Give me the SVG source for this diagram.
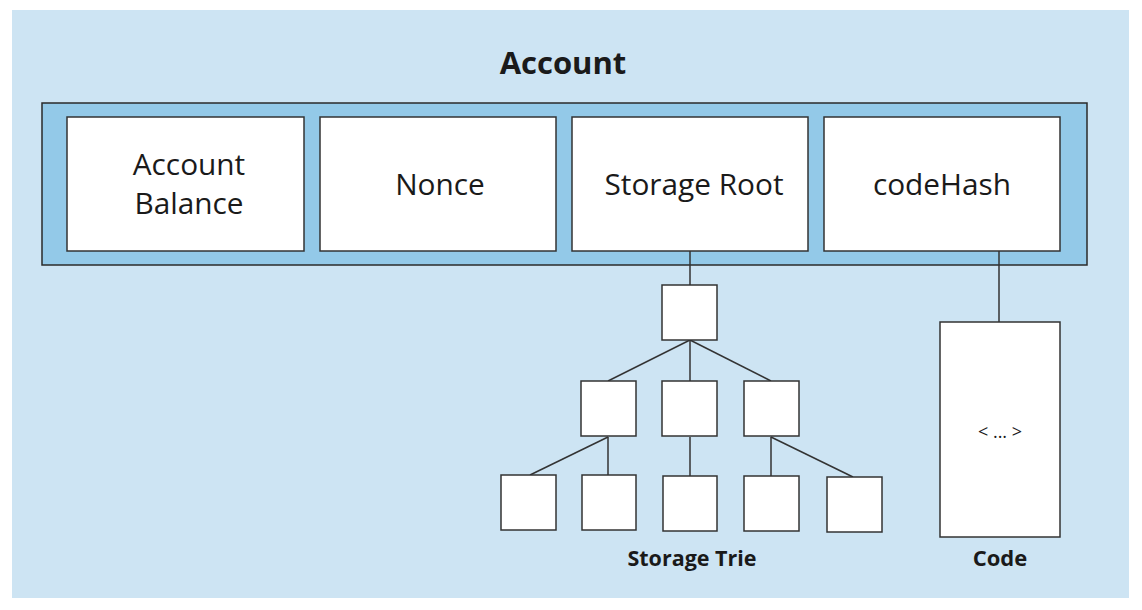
<svg xmlns="http://www.w3.org/2000/svg" width="1142" height="610" viewBox="0 0 1142 610">
<style>
.lbl{font-family:"Open Sans","Noto Sans",sans-serif;font-size:29.8px;fill:#1a1a1a;text-anchor:middle}
.bold{font-family:"Open Sans","Noto Sans",sans-serif;font-weight:bold;fill:#1a1a1a;text-anchor:middle}
.box{fill:#fff;stroke:#333;stroke-width:1.5}
.conn{stroke:#333;stroke-width:1.5;fill:none}
</style>
<rect x="0" y="0" width="1142" height="610" fill="#fff"/>
<rect x="12" y="10" width="1117" height="588" fill="#cde4f3"/>
<text class="bold" x="563" y="74" font-size="31">Account</text>
<g id="account">
<rect x="42" y="103" width="1045" height="162" fill="#93c9e8" stroke="#2a2a2a" stroke-width="1.5"/>
</g>
<g id="balance"><rect class="box" x="67" y="117" width="237" height="134"/><text class="lbl" x="189" y="175">Account</text><text class="lbl" x="189" y="214">Balance</text></g>
<g id="nonce"><rect class="box" x="320" y="117" width="236" height="134"/><text class="lbl" x="440" y="195">Nonce</text></g>
<g id="storageRoot"><rect class="box" x="572" y="117" width="236" height="134"/><text class="lbl" x="694" y="195">Storage Root</text></g>
<g id="codeHash"><rect class="box" x="824" y="117" width="236" height="134"/><text class="lbl" x="942" y="195">codeHash</text></g>
<g id="connectors">
<line class="conn" x1="690" y1="251" x2="690" y2="285"/>
<line class="conn" x1="690" y1="340" x2="608" y2="381"/>
<line class="conn" x1="690" y1="340" x2="690" y2="381"/>
<line class="conn" x1="690" y1="340" x2="771" y2="381"/>
<line class="conn" x1="608" y1="437" x2="530" y2="475"/>
<line class="conn" x1="608" y1="437" x2="608" y2="475"/>
<line class="conn" x1="690" y1="437" x2="690" y2="476"/>
<line class="conn" x1="771" y1="437" x2="771" y2="476"/>
<line class="conn" x1="771" y1="437" x2="853" y2="477"/>
<line class="conn" x1="999" y1="251" x2="999" y2="322"/>
</g>
<g id="trieRoot"><rect class="box" x="662" y="285" width="55" height="55"/></g>
<g id="trieMid1"><rect class="box" x="581" y="381" width="55" height="55"/></g>
<g id="trieMid2"><rect class="box" x="662" y="381" width="55" height="55"/></g>
<g id="trieMid3"><rect class="box" x="744" y="381" width="55" height="55"/></g>
<g id="trieLeaf1"><rect class="box" x="501" y="475" width="55" height="55"/></g>
<g id="trieLeaf2"><rect class="box" x="582" y="475" width="54" height="55"/></g>
<g id="trieLeaf3"><rect class="box" x="663" y="476" width="54" height="55"/></g>
<g id="trieLeaf4"><rect class="box" x="744" y="476" width="55" height="55" stroke="#777"/></g>
<g id="trieLeaf5"><rect class="box" x="827" y="477" width="55" height="55" stroke="#777"/></g>
<g id="storageTrieLabel"><text class="bold" x="692" y="566" font-size="21.5">Storage Trie</text></g>
<g id="code"><rect class="box" x="940" y="322" width="120" height="215"/><text x="1000" y="438" font-family="Open Sans, Noto Sans, sans-serif" font-size="18" fill="#1a1a1a" text-anchor="middle">&lt; ... &gt;</text></g>
<g id="codeLabel"><text class="bold" x="1000" y="566" font-size="22">Code</text></g>
</svg>
